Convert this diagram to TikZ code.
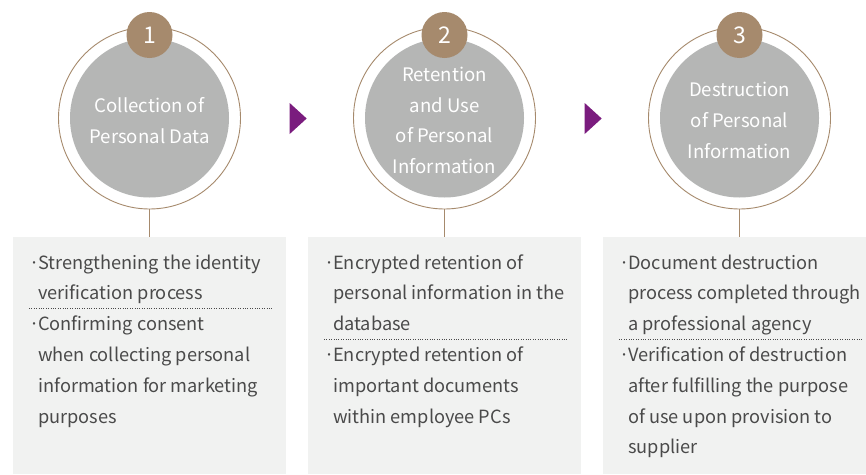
\documentclass[tikz,border=0pt]{standalone}
\usepackage{fontspec}
\setmainfont{Noto Sans CJK KR}
\usetikzlibrary{shapes.geometric,positioning,calc}
\definecolor{stagebrown}{HTML}{A68A6D}
\definecolor{discgrey}{HTML}{B5B6B5}
\definecolor{panelgrey}{HTML}{F1F2F1}
\definecolor{bodytext}{HTML}{4A4A4A}
\definecolor{arrowpurple}{HTML}{7A1C7E}
\newcommand{\stagecircle}[4]{%
    % #1=x, #2=number, #3=title, #4=name
    \node[ring] (ring#4) at (#1,118) {};
    \node[disc] (disc#4) at (#1,118) {};
    \node[badge] (badge#4) at (#1,35) {#2};
    \node[title] (title#4) at (#1,120.5) {#3};
}
\newcommand{\bul}{\makebox[9pt][l]{·}}
\newcommand{\ind}{\hspace*{9pt}}

\begin{document}
\begin{tikzpicture}[x=1pt, y=-1pt,
    ring/.style={circle, draw=stagebrown, line width=0.9pt, fill=white, minimum size=182pt, inner sep=0pt},
    disc/.style={circle, fill=discgrey, minimum size=159pt, inner sep=0pt},
    badge/.style={circle, fill=stagebrown, minimum size=46pt, inner sep=0pt, text=white, font=\fontsize{23}{26}\selectfont},
    title/.style={align=center, text=white, inner sep=0pt, font=\fontsize{18.6}{30.6}\selectfont},
    panel/.style={rectangle, fill=panelgrey, minimum height=237pt, inner sep=0pt},
    item/.style={anchor=base west, align=left, inner sep=0pt, text=bodytext, font=\fontsize{18.2}{30.8}\selectfont},
    stem/.style={draw=stagebrown, line width=0.8pt},
    sep/.style={draw=bodytext, line width=0.7pt, dash pattern=on 0.8pt off 1.6pt},
    pointer/.style={isosceles triangle, isosceles triangle stretches, fill=arrowpurple, minimum width=31pt, minimum height=17pt, inner sep=0pt}
]
    \useasboundingbox[fill=white] (0,0) rectangle (866,474);

    % panels
    \node[panel, minimum width=273pt] (panel1) at (149.5,355.5) {};
    \node[panel, minimum width=273pt] (panel2) at (444.5,355.5) {};
    \node[panel, minimum width=263pt] (panel3) at (734.5,355.5) {};

    % stages
    \stagecircle{149.5}{1}{Collection of\\Personal Data}{1}
    \stagecircle{444.5}{2}{Retention\\and Use\\of Personal\\Information}{2}
    \stagecircle{739.5}{3}{Destruction\\of Personal\\Information}{3}

    \draw[stem] (ring1.south) -- (ring1.south |- panel1.north);
    \draw[stem] (ring2.south) -- (ring2.south |- panel2.north);
    \draw[stem] (ring3.south) -- (ring3.south |- panel3.north);

    \node[pointer] (arr1) at (296.5,118.5) {};
    \node[pointer] (arr2) at (591.5,118.5) {};

    % panel text (anchored at the last baseline)
    \node[item] (item1a) at (29,299.8) {\bul Strengthening the identity\\\ind verification process};
    \draw[sep] (29,308) -- (272,308);
    \node[item] (item1b) at (29,423) {\bul Confirming consent\\\ind when collecting personal\\\ind information for marketing\\\ind purposes};

    \node[item] (item2a) at (324,330.6) {\bul Encrypted retention of\\\ind personal information in the\\\ind database};
    \draw[sep] (324,339) -- (567,339);
    \node[item] (item2b) at (324,423) {\bul Encrypted retention of\\\ind important documents\\\ind within employee PCs};

    \node[item] (item3a) at (619,330.6) {\bul Document destruction\\\ind process completed through\\\ind a professional agency};
    \draw[sep] (619,339) -- (862,339);
    \node[item] (item3b) at (619,453.8) {\bul Verification of destruction\\\ind after fulfilling the purpose\\\ind of use upon provision to\\\ind supplier};
\end{tikzpicture}
\end{document}
